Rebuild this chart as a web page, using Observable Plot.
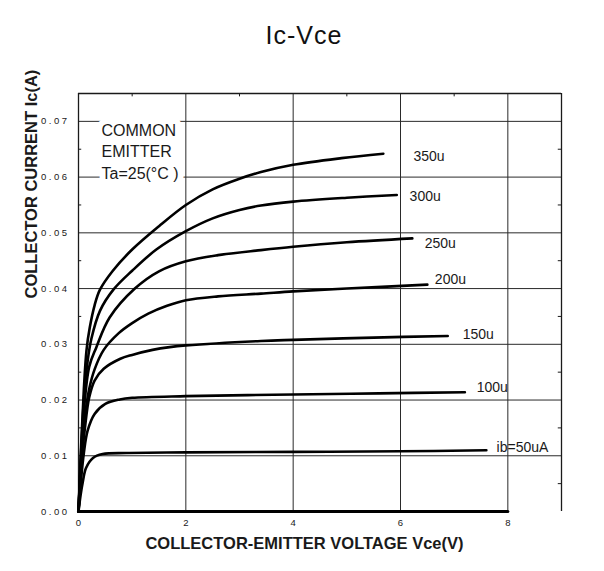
<!DOCTYPE html>
<html><head><meta charset="utf-8">
<script src="https://cdn.jsdelivr.net/npm/d3@7"></script>
<script src="https://cdn.jsdelivr.net/npm/@observablehq/plot@0.6"></script>
<style>
html,body{margin:0;padding:0;background:#fff;}
#title{width:604px;height:70px;box-sizing:border-box;padding-top:23px;padding-left:4px;line-height:25px;text-align:center;font-family:"Liberation Sans",Arial,sans-serif;font-size:25px;letter-spacing:1px;color:#111;}
#chart svg g[aria-label="y-axis tick label"] text{letter-spacing:2.5px}
</style></head>
<body>
<div id="title">Ic-Vce</div>
<div id="chart"></div>
<script>
// ---- data ----
const seriesNames = ["350u", "300u", "250u", "200u", "150u", "100u", "ib=50uA"];

const vce_350 = [0, 0.05, 0.1, 0.15, 0.21, 0.3, 0.4, 0.64, 1.0, 1.5, 2.0, 2.5, 3.0, 3.4, 4.0, 4.9, 5.68];
const ic_350  = [0, 0.012, 0.022, 0.029, 0.033, 0.037, 0.0398, 0.0432, 0.047, 0.0512, 0.0550, 0.0578, 0.0597, 0.0609, 0.0622, 0.0634, 0.0642];

const vce_300 = [0, 0.05, 0.1, 0.17, 0.24, 0.4, 0.65, 1.0, 1.45, 2.0, 2.5, 3.0, 3.4, 4.0, 5.0, 5.93];
const ic_300  = [0, 0.011, 0.02, 0.027, 0.031, 0.036, 0.0398, 0.0432, 0.047, 0.0503, 0.0526, 0.0541, 0.0549, 0.0556, 0.0563, 0.0568];

const vce_250 = [0, 0.05, 0.1, 0.2, 0.33, 0.58, 1.05, 1.5, 2.0, 2.6, 3.4, 4.0, 5.0, 6.22];
const ic_250  = [0, 0.01, 0.018, 0.026, 0.0294, 0.0348, 0.04, 0.0431, 0.0449, 0.046, 0.0469, 0.0475, 0.0483, 0.049];

const vce_200 = [0, 0.05, 0.12, 0.2, 0.3, 0.47, 0.75, 1.0, 1.3, 1.65, 2.0, 2.6, 3.4, 4.0, 5.0, 6.5];
const ic_200  = [0, 0.009, 0.017, 0.022, 0.0255, 0.029, 0.032, 0.0338, 0.0355, 0.0369, 0.0379, 0.0386, 0.0391, 0.0395, 0.04, 0.0407];

const vce_150 = [0, 0.05, 0.12, 0.2, 0.3, 0.47, 0.78, 1.0, 1.38, 1.7, 2.0, 3.4, 4.0, 5.5, 6.88];
const ic_150  = [0, 0.008, 0.015, 0.0205, 0.0235, 0.0256, 0.0274, 0.0281, 0.029, 0.0295, 0.0298, 0.0306, 0.0308, 0.0312, 0.0315];

const vce_100 = [0, 0.05, 0.1, 0.17, 0.3, 0.5, 0.77, 1.0, 2.0, 4.0, 5.6, 7.2];
const ic_100  = [0, 0.006, 0.0105, 0.0145, 0.0175, 0.0193, 0.0201, 0.0204, 0.0207, 0.021, 0.0212, 0.0214];

const vce_50 = [0, 0.04, 0.08, 0.14, 0.27, 0.45, 0.89, 2.0, 4.0, 6.0, 7.6];
const ic_50  = [0, 0.003, 0.0053, 0.0078, 0.0096, 0.0103, 0.0105, 0.0106, 0.0107, 0.0108, 0.011];

const vce_0 = [0, 2, 4, 6, 8];
const ic_0  = [0, 0, 0, 0, 0];

// label anchor points (left end of each curve label)
const labelVce = [6.24, 6.17, 6.45, 6.64, 7.16, 7.42, 7.79];
const labelIc  = [0.0637, 0.0565, 0.0481, 0.0416, 0.0317, 0.0222, 0.0115];

const xDomain = [0, 9];
const yDomain = [0, 0.075];
const xTicks = [0, 2, 4, 6, 8];
const yTicks = [0, 0.01, 0.02, 0.03, 0.04, 0.05, 0.06, 0.07];
const xMinor = [1, 3, 5, 7];
const yMinor = [0.005, 0.015, 0.025, 0.035, 0.045, 0.055, 0.065];
const legendLines = ["COMMON", "EMITTER", "Ta=25(°C )"];
const xLabel = "COLLECTOR-EMITTER VOLTAGE Vce(V)";
const yLabel = "COLLECTOR CURRENT Ic(A)";

// ---- build tables ----
const vceSets = [vce_350, vce_300, vce_250, vce_200, vce_150, vce_100, vce_50];
const icSets  = [ic_350, ic_300, ic_250, ic_200, ic_150, ic_100, ic_50];
const rows = [];
seriesNames.forEach((s, i) => vceSets[i].forEach((v, j) => rows.push({series: s, vce: v, ic: icSets[i][j]})));
const rows0 = vce_0.map((v, j) => ({vce: v, ic: ic_0[j]}));
const labels = seriesNames.map((s, i) => ({text: s, vce: labelVce[i], ic: labelIc[i]}));

const ink = "#1a1a1a";
const tickLenX = 0.06, tickLenY = 0.0006;

const chart = Plot.plot({
  width: 604,
  height: 501,
  marginTop: 23,
  marginBottom: 60,
  marginLeft: 78,
  marginRight: 43,
  style: {fontFamily: "'Liberation Sans', Arial, sans-serif", fontSize: "9.5px", background: "white", color: ink},
  x: {domain: xDomain},
  y: {domain: yDomain},
  marks: [
    Plot.gridX(xTicks.slice(1), {stroke: "#2a2a2a", strokeOpacity: 1, strokeWidth: 1}),
    Plot.gridY(yTicks.slice(1), {stroke: "#2a2a2a", strokeOpacity: 1, strokeWidth: 1}),
    Plot.ruleX(xDomain, {stroke: ink, strokeWidth: 1.3}),
    Plot.ruleY([yDomain[1]], {stroke: ink, strokeWidth: 1.3}),
    // minor ticks (inward)
    Plot.ruleY(yMinor, {x1: () => xDomain[0], x2: () => xDomain[0] + tickLenX, stroke: ink}),
    Plot.ruleY(yMinor, {x1: () => xDomain[1] - tickLenX, x2: () => xDomain[1], stroke: ink}),
    Plot.ruleX(xMinor, {y1: () => yDomain[1] - tickLenY, y2: () => yDomain[1], stroke: ink}),
    Plot.axisX(xTicks, {tickSize: 0, tickPadding: 8, label: null, fill: ink}),
    Plot.axisY(yTicks, {tickSize: 0, tickPadding: 9, tickFormat: ".2f", label: null, fill: ink}),
    // curves
    Plot.line(rows, {x: "vce", y: "ic", z: "series", curve: "catmull-rom", stroke: "black", strokeWidth: 2.6}),
    Plot.line(rows0, {x: "vce", y: "ic", stroke: "black", strokeWidth: 3}),
    // curve labels
    Plot.text(labels, {x: "vce", y: "ic", text: "text", textAnchor: "start", fontSize: 14, fill: ink}),
    // legend box
    Plot.text([legendLines.join("\n")], {frameAnchor: "top-left", dx: 23, dy: 27, lineAnchor: "top", textAnchor: "start",
      lineHeight: 1.35, fontSize: 16, fill: ink, stroke: "white", strokeWidth: 12, strokeLinejoin: "round", paintOrder: "stroke"}),
    // axis titles
    Plot.text([yLabel], {frameAnchor: "left", rotate: -90, dx: -46.5, dy: -4, fontSize: 16.5, fontWeight: "bold", fill: ink}),
    Plot.text([xLabel], {frameAnchor: "bottom", dx: -15.5, dy: 37, fontSize: 16.5, fontWeight: "bold", fill: ink})
  ]
});
document.getElementById("chart").appendChild(chart);
</script>
</body></html>
